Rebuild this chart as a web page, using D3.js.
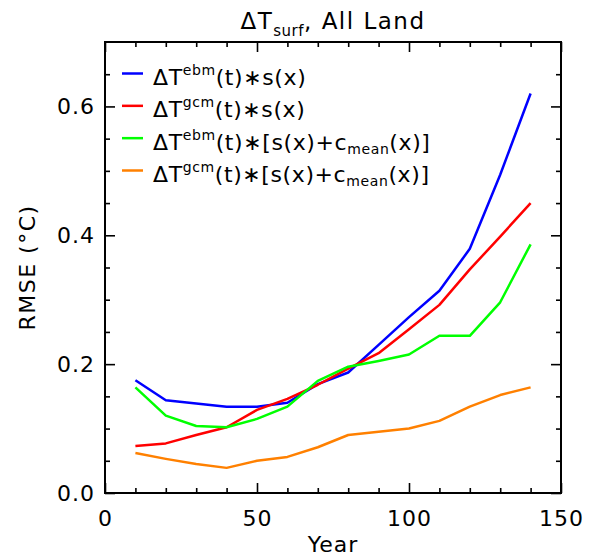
<!DOCTYPE html>
<html>
<head>
<meta charset="utf-8">
<script src="https://cdn.jsdelivr.net/npm/d3@7"></script>
<style>
  body { margin: 0; background: #fff; }
  text { font-family: "DejaVu Sans", sans-serif; fill: #000; }
</style>
</head>
<body>
<div id="chart"></div>
<script>
// data
const years = [10, 20, 30, 40, 50, 60, 70, 80, 90, 100, 110, 120, 130, 140];
const ebmS = [0.175, 0.144, 0.139, 0.134, 0.134, 0.140, 0.169, 0.187, 0.230, 0.273, 0.314, 0.379, 0.494, 0.620];
const gcmS = [0.073, 0.077, 0.090, 0.102, 0.129, 0.146, 0.168, 0.193, 0.217, 0.254, 0.292, 0.347, 0.398, 0.450];
const ebmSC = [0.164, 0.120, 0.104, 0.102, 0.115, 0.134, 0.174, 0.196, 0.205, 0.215, 0.244, 0.244, 0.296, 0.386];
const gcmSC = [0.062, 0.053, 0.045, 0.039, 0.050, 0.056, 0.071, 0.090, 0.095, 0.100, 0.112, 0.134, 0.152, 0.164];

const xMajor = [0, 50, 100, 150];
const xMinor = [10, 20, 30, 40, 60, 70, 80, 90, 110, 120, 130, 140];
const yMajor = [0, 0.2, 0.4, 0.6];
const yMinor = [0.05, 0.1, 0.15, 0.25, 0.3, 0.35, 0.45, 0.5, 0.55, 0.65];

const series = [
  { values: ebmS, color: "#0000ff", sup: "ebm", withMean: false },
  { values: gcmS, color: "#ff0000", sup: "gcm", withMean: false },
  { values: ebmSC, color: "#00ff00", sup: "ebm", withMean: true },
  { values: gcmSC, color: "#ff8000", sup: "gcm", withMean: true }
];

const width = 593, height = 560;
const margin = { top: 42, right: 32, bottom: 67, left: 105 };

const svg = d3.select("#chart")
  .append("svg")
  .attr("width", width)
  .attr("height", height);

const x = d3.scaleLinear().domain([0, 150]).range([margin.left, width - margin.right]);
const y = d3.scaleLinear().domain([0, 0.7]).range([height - margin.bottom, margin.top]);

const fontSize = 22;

// axes: ticks point inward on all four sides
function styleAxis(g) {
  g.select(".domain").remove();
  g.selectAll(".tick line").attr("stroke", "#000").attr("stroke-width", 1.6);
  g.selectAll(".tick text")
    .style("font-size", fontSize + "px")
    .style("letter-spacing", "1px")
    .attr("fill", "#000");
}

svg.append("g")
  .attr("transform", `translate(0,${y(0)})`)
  .call(d3.axisBottom(x).tickValues(xMajor).tickSizeInner(-10).tickSizeOuter(0).tickPadding(17))
  .call(styleAxis);
svg.append("g")
  .attr("transform", `translate(0,${y(0)})`)
  .call(d3.axisBottom(x).tickValues(xMinor).tickSizeInner(-5).tickSizeOuter(0).tickFormat(""))
  .call(styleAxis);
svg.append("g")
  .attr("transform", `translate(0,${y(0.7)})`)
  .call(d3.axisTop(x).tickValues(xMajor).tickSizeInner(-10).tickSizeOuter(0).tickFormat(""))
  .call(styleAxis);
svg.append("g")
  .attr("transform", `translate(0,${y(0.7)})`)
  .call(d3.axisTop(x).tickValues(xMinor).tickSizeInner(-5).tickSizeOuter(0).tickFormat(""))
  .call(styleAxis);

svg.append("g")
  .attr("transform", `translate(${x(0)},0)`)
  .call(d3.axisLeft(y).tickValues(yMajor).tickSizeInner(-10).tickSizeOuter(0).tickPadding(10).tickFormat(d3.format(".1f")))
  .call(styleAxis);
svg.append("g")
  .attr("transform", `translate(${x(0)},0)`)
  .call(d3.axisLeft(y).tickValues(yMinor).tickSizeInner(-5).tickSizeOuter(0).tickFormat(""))
  .call(styleAxis);
svg.append("g")
  .attr("transform", `translate(${x(150)},0)`)
  .call(d3.axisRight(y).tickValues(yMajor).tickSizeInner(-10).tickSizeOuter(0).tickFormat(""))
  .call(styleAxis);
svg.append("g")
  .attr("transform", `translate(${x(150)},0)`)
  .call(d3.axisRight(y).tickValues(yMinor).tickSizeInner(-5).tickSizeOuter(0).tickFormat(""))
  .call(styleAxis);

// frame
svg.append("rect")
  .attr("x", x(0))
  .attr("y", y(0.7))
  .attr("width", x(150) - x(0))
  .attr("height", y(0) - y(0.7))
  .attr("fill", "none")
  .attr("stroke", "#000")
  .attr("stroke-width", 2);

// lines
const line = d3.line()
  .x((d, i) => x(years[i]))
  .y(d => y(d));

svg.selectAll(".series")
  .data(series)
  .join("path")
  .attr("class", "series")
  .attr("d", d => line(d.values))
  .attr("fill", "none")
  .attr("stroke", d => d.color)
  .attr("stroke-width", 2.5)
  .attr("stroke-linejoin", "round");

// title
const title = svg.append("text")
  .attr("x", (x(0) + x(150)) / 2)
  .attr("y", 29)
  .attr("text-anchor", "middle")
  .style("font-size", "23px")
  .style("letter-spacing", "1.5px");
title.append("tspan").text("\u0394T");
title.append("tspan").attr("dy", 7).style("font-size", "15px").style("letter-spacing", "0.5px").text("surf");
title.append("tspan").attr("dy", -7).text(", All Land");

// axis titles
svg.append("text")
  .attr("x", (x(0) + x(150)) / 2)
  .attr("y", 552)
  .attr("text-anchor", "middle")
  .style("font-size", fontSize + "px")
  .style("letter-spacing", "1px")
  .text("Year");

svg.append("text")
  .attr("transform", `translate(35,${(y(0) + y(0.7)) / 2}) rotate(-90)`)
  .attr("text-anchor", "middle")
  .style("font-size", fontSize + "px")
  .style("letter-spacing", "1.5px")
  .text("RMSE (\u00B0C)");

// legend
const legend = svg.append("g").attr("class", "legend");
const rowY = d3.scaleLinear().domain([0, 3]).range([73.5, 170.5]);

series.forEach((s, i) => {
  const yy = rowY(i);
  legend.append("line")
    .attr("x1", 122)
    .attr("x2", 143)
    .attr("y1", yy)
    .attr("y2", yy)
    .attr("stroke", s.color)
    .attr("stroke-width", 2.5);

  const t = legend.append("text")
    .attr("x", 153)
    .attr("y", yy + 11.5)
    .style("font-size", fontSize + "px")
    .style("letter-spacing", "0.6px");
  t.append("tspan").text("\u0394T");
  t.append("tspan").attr("dy", -10).style("font-size", "14px").text(s.sup);
  if (s.withMean) {
    t.append("tspan").attr("dy", 10).text("(t)\u2217[s(x)+c");
    t.append("tspan").attr("dy", 4).style("font-size", "14px").text("mean");
    t.append("tspan").attr("dy", -4).text("(x)]");
  } else {
    t.append("tspan").attr("dy", 10).text("(t)\u2217s(x)");
  }
});
</script>
</body>
</html>
